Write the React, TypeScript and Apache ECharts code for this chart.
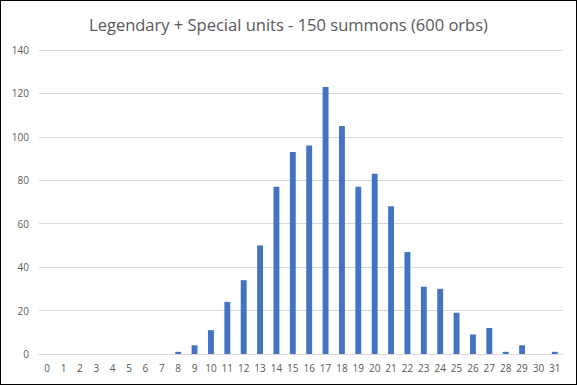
import React, { useEffect, useRef } from "react";
import * as echarts from "echarts";

const titleText = "Legendary + Special units - 150 summons (600 orbs)";
const categories = Array.from({ length: 32 }, (_, i) => String(i));
const counts = [0, 0, 0, 0, 0, 0, 0, 0, 1, 4, 11, 24, 34, 50, 77, 93, 96, 123, 105, 77, 83, 68, 47, 31, 30, 19, 9, 12, 1, 4, 0, 1];

export default function App() {
  const ref = useRef<HTMLDivElement>(null);
  useEffect(() => {
    const chart = echarts.init(ref.current!, null, { renderer: "svg" });
    chart.setOption({
      animation: false,
      backgroundColor: "#ffffff",
      title: {
        text: titleText,
        left: "center",
        top: 10,
        textStyle: { fontFamily: "Open Sans", fontSize: 16.5, fontWeight: "normal", color: "#595959" },
      },
      grid: { left: 38, right: 13, top: 49, bottom: 30 },
      xAxis: {
        type: "category",
        data: categories,
        axisLine: { lineStyle: { color: "#d9d9d9" } },
        axisTick: { show: false },
        axisLabel: { color: "#595959", fontFamily: "Open Sans", fontSize: 10, margin: 9, interval: 0 },
      },
      yAxis: {
        type: "value",
        min: 0,
        max: 140,
        interval: 20,
        axisLine: { show: false },
        axisTick: { show: false },
        splitLine: { lineStyle: { color: "#d9d9d9" } },
        axisLabel: { color: "#595959", fontFamily: "Open Sans", fontSize: 10, margin: 10 },
      },
      series: [
        {
          type: "bar",
          data: counts,
          barWidth: "36%",
          itemStyle: { color: "#4472c4" },
        },
      ],
    });
    return () => chart.dispose();
  }, []);
  return (
    <div style={{ position: "absolute", left: 0, top: 0, width: 577, height: 385, border: "1px solid #000", boxSizing: "border-box", background: "#fff" }}>
      <div ref={ref} style={{ width: 575, height: 383 }} />
    </div>
  );
}
